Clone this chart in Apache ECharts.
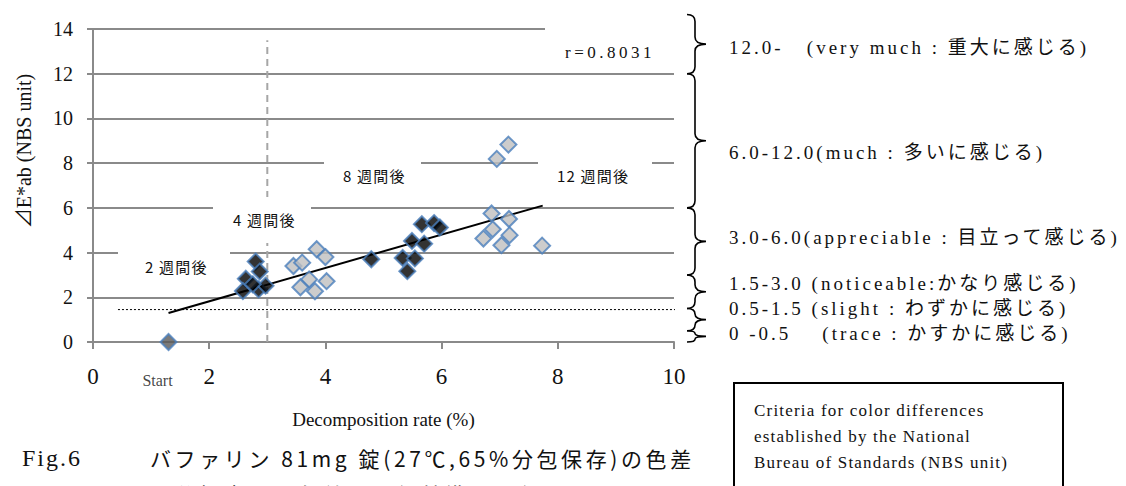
<!DOCTYPE html>
<html>
<head>
<meta charset="utf-8">
<script src="https://cdn.jsdelivr.net/npm/echarts@6/dist/echarts.min.js"></script>
<style>
  html, body { margin: 0; padding: 0; background: #fff; }
  #chart { width: 1126px; height: 486px; }
  #chart text { white-space: pre; }
</style>
</head>
<body>
<div id="chart"></div>
<script>
// values: [decomposition rate %, dE*ab]
const startPoint = [[1.3, 0]];
const weeks2 = [[2.8, 3.6], [2.87, 3.15], [2.63, 2.83], [2.58, 2.28], [2.85, 2.35], [2.97, 2.52], [2.75, 2.58]];
const weeks4 = [[3.45, 3.4], [3.6, 3.55], [3.85, 4.15], [4.0, 3.8], [3.72, 2.8], [4.02, 2.72], [3.57, 2.45], [3.82, 2.27]];
const weeks8 = [[4.79, 3.7], [5.33, 3.76], [5.41, 3.17], [5.54, 3.74], [5.49, 4.52], [5.7, 4.4], [5.66, 5.27], [5.87, 5.32], [5.97, 5.12]];
const weeks12 = [[7.15, 8.83], [6.95, 8.19], [6.86, 5.75], [7.16, 5.5], [6.88, 5.04], [6.72, 4.63], [7.17, 4.78], [7.03, 4.33], [7.73, 4.31]];
const trendLine = [[1.3, 1.3], [7.74, 6.1]];
const slightLine = [[0.43, 1.45], [10.15, 1.45]];
const week3Line = [[3, 0], [3, 13.5]];
const xTicks = [0, 10, 2];   // min, max, step
const yTicks = [0, 14, 2];

// NBS criteria ranges [low, high] and their labels
const nbsRanges = [[12, 14.65], [6, 12], [3, 6], [1.5, 3], [0.5, 1.5], [0, 0.5]];
const nbsLabels = [
  '12.0-   (very much : 重大に感じる)',
  '6.0-12.0(much : 多いに感じる)',
  '3.0-6.0(appreciable : 目立って感じる)',
  '1.5-3.0 (noticeable:かなり感じる)',
  '0.5-1.5 (slight : わずかに感じる)',
  '0 -0.5    (trace : かすかに感じる)'
];
const periodLabels = ['2 週間後', '4 週間後', '8 週間後', '12 週間後'];
const rText = 'r=0.8031';

const SERIF = "'Liberation Serif', 'Noto Sans CJK JP', serif";
const JP = "'Noto Sans CJK JP', sans-serif";
const BLUE = '#4A7EBB';
const GRID_GRAY = '#8a8a8a';

// letter spacing per text (svg renderer, applied after render)
const spacing = {};

const chart = echarts.init(document.getElementById('chart'), null, { renderer: 'svg' });

function diamonds(name, data, fill) {
  return {
    name, type: 'scatter', data, z: 5,
    symbol: 'diamond', symbolSize: 16,
    itemStyle: { color: fill, borderColor: BLUE, borderWidth: 2 }
  };
}

function label(x, y, text, size, family, ls) {
  if (ls) spacing[text] = ls;
  return { type: 'text', z: 3, x, y,
    style: { text, fontSize: size, fontFamily: family, fill: '#111', verticalAlign: 'middle' } };
}

// white boxes that break the grid lines behind the in-plot labels
const boxes = [
  { x: 118, y: 246, w: 112, h: 40, tx: 145, ty: 266 },
  { x: 213, y: 197, w: 98, h: 46, tx: 233, ty: 219 },
  { x: 324, y: 155, w: 97, h: 40, tx: 343, ty: 175 },
  { x: 538, y: 155, w: 114, h: 40, tx: 557, ty: 175 }
];
const graphics = [];
boxes.forEach((b, i) => {
  graphics.push({ type: 'rect', z: 2, shape: { x: b.x, y: b.y, width: b.w, height: b.h }, style: { fill: '#fff' } });
  graphics.push(label(b.tx, b.ty, periodLabels[i], 15, JP, 1.2));
});
graphics.push({ type: 'rect', z: 2, shape: { x: 545, y: 24, width: 130, height: 46 }, style: { fill: '#fff' } });
graphics.push(label(565, 52, rText, 17, SERIF, 3.5));

// criteria texts on the right
const rowY = [47, 152, 237, 283, 308, 333];
nbsLabels.forEach((t, i) => graphics.push(label(729, rowY[i], t, 19, SERIF, 3)));

// boxed note
const noteLines = ['Criteria for color differences', 'established by the National', 'Bureau of Standards (NBS unit)'];
graphics.push({ type: 'rect', shape: { x: 734, y: 383, width: 329, height: 130 }, style: { fill: '#fff', stroke: '#000', lineWidth: 2 } });
noteLines.forEach((t, i) => graphics.push(label(754, 410 + i * 26, t, 17, SERIF, 1.2)));

// caption
graphics.push(label(22, 458, 'Fig.6', 24, SERIF, 2));
graphics.push(label(150, 458, 'バファリン 81mg 錠(27℃,65%分包保存)の色差', 21, JP, 3.6));
graphics.push(label(150, 494, 'と分解率及び色差の評価基準の関係', 21, JP, 3.6));

// y axis title
graphics.push({ type: 'text', x: 24, y: 151, rotation: Math.PI / 2,
  style: { text: '⊿E*ab (NBS unit)', fontSize: 20, fontFamily: SERIF, fill: '#111', align: 'center', verticalAlign: 'middle' } });

const option = {
  animation: false,
  backgroundColor: '#fff',
  grid: { left: 93, right: 452, top: 29, bottom: 144 },
  xAxis: {
    type: 'value', min: xTicks[0], max: xTicks[1], interval: xTicks[2],
    name: 'Decomposition rate (%)', nameLocation: 'middle', nameGap: 68,
    nameTextStyle: { fontFamily: SERIF, fontSize: 19, color: '#111' },
    axisLine: { lineStyle: { color: GRID_GRAY, width: 2 } },
    axisTick: { show: true, length: 7, lineStyle: { color: GRID_GRAY, width: 2 } },
    axisLabel: { fontFamily: SERIF, fontSize: 23, color: '#111', margin: 23 },
    splitLine: { show: false }
  },
  yAxis: {
    type: 'value', min: yTicks[0], max: yTicks[1], interval: yTicks[2],
    axisLine: { show: true, lineStyle: { color: GRID_GRAY, width: 2 } },
    axisTick: { show: true, length: 6, lineStyle: { color: GRID_GRAY, width: 2 } },
    axisLabel: { fontFamily: SERIF, fontSize: 20, color: '#111', margin: 20 },
    splitLine: { lineStyle: { color: GRID_GRAY, width: 2 } }
  },
  graphic: graphics,
  series: [
    {
      type: 'line', data: week3Line, z: 1, symbol: 'none', silent: true,
      lineStyle: { color: '#a6a6a6', width: 2, type: [7, 5] }
    },
    {
      type: 'line', data: slightLine, z: 4, symbol: 'none', clip: false, silent: true,
      lineStyle: { color: '#000', width: 1, type: [2, 2] }
    },
    {
      type: 'line', data: trendLine, z: 4, symbol: 'none', silent: true,
      lineStyle: { color: '#000', width: 2 }
    },
    {
      name: 'Start', type: 'scatter', data: startPoint, z: 5,
      symbol: 'diamond', symbolSize: 16,
      itemStyle: { color: '#595959', borderColor: BLUE, borderWidth: 2 },
      label: {
        show: true, formatter: 'Start', position: 'bottom', distance: 21, offset: [-11, 0],
        fontFamily: SERIF, fontSize: 16, color: '#111'
      }
    },
    diamonds('2週間後', weeks2, '#000'),
    diamonds('4週間後', weeks4, '#bfbfbf'),
    diamonds('8週間後', weeks8, '#000'),
    diamonds('12週間後', weeks12, '#bfbfbf'),
    {
      // braces for the NBS criteria ranges, drawn just right of the plot
      type: 'custom', data: nbsRanges, clip: false, z: 4, silent: true,
      renderItem: function (params, api) {
        const lo = api.value(0), hi = api.value(1);
        const p1 = api.coord([10, hi]);
        const p2 = api.coord([10, lo]);
        const x0 = p1[0] + 13, xs = p1[0] + 21, xt = p1[0] + 32;
        const y1 = p1[1], y2 = p2[1], ym = (y1 + y2) / 2;
        const r = Math.min(7, (y2 - y1) / 4);
        const d = 'M' + x0 + ' ' + y1 + ' Q' + xs + ' ' + y1 + ' ' + xs + ' ' + (y1 + r) +
          ' L' + xs + ' ' + (ym - r) + ' Q' + xs + ' ' + ym + ' ' + xt + ' ' + ym +
          ' Q' + xs + ' ' + ym + ' ' + xs + ' ' + (ym + r) +
          ' L' + xs + ' ' + (y2 - r) + ' Q' + xs + ' ' + y2 + ' ' + x0 + ' ' + y2;
        return { type: 'path', shape: { pathData: d }, style: { fill: 'none', stroke: '#000', lineWidth: 1.6 } };
      }
    }
  ]
};
chart.setOption(option);

// letter spacing like the original typesetting
chart.getDom().querySelectorAll('text').forEach(function (t) {
  const s = spacing[t.textContent];
  if (s) t.style.letterSpacing = s + 'px';
});
</script>
</body>
</html>
